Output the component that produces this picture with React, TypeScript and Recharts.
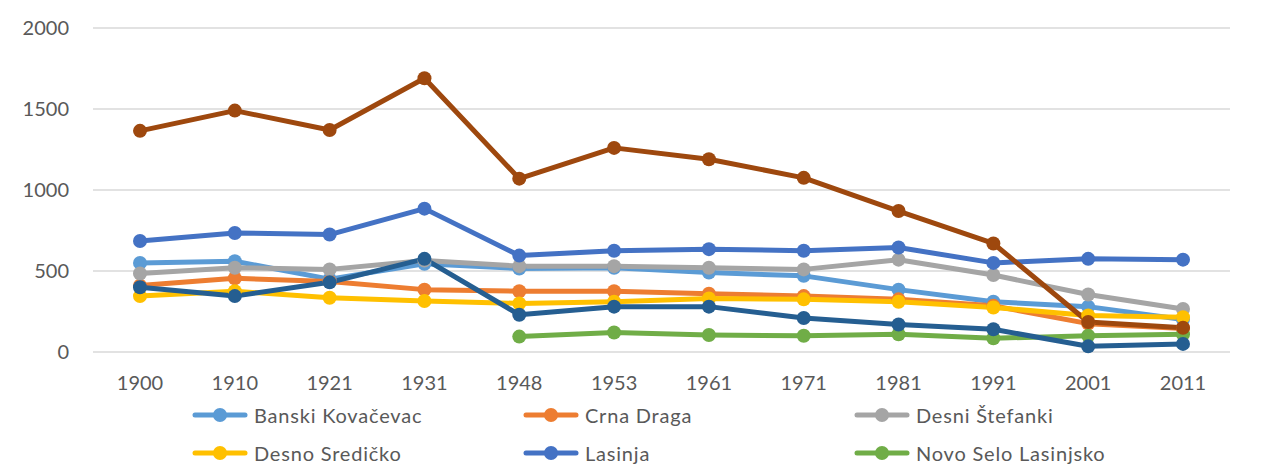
import React from 'react';
import { LineChart, Line, XAxis, YAxis, CartesianGrid, Legend } from 'recharts';

const years = ['1900', '1910', '1921', '1931', '1948', '1953', '1961', '1971', '1981', '1991', '2001', '2011'];

const banskiKovacevac = [550, 560, 450, 545, 515, 520, 490, 470, 385, 310, 280, 200];
const crnaDraga = [410, 455, 435, 385, 375, 375, 360, 345, 325, 285, 175, 145];
const desniStefanki = [485, 520, 510, 565, 530, 530, 520, 510, 570, 475, 355, 265];
const desnoSredicko = [345, 375, 335, 315, 300, 310, 330, 325, 310, 275, 225, 215];
const lasinja = [685, 735, 725, 885, 595, 625, 635, 625, 645, 550, 575, 570];
const novoSelo = [null, null, null, null, 95, 120, 105, 100, 110, 85, 100, 110];
const prkos = [400, 345, 430, 575, 230, 280, 280, 210, 170, 140, 35, 50];
const sjenicak = [1365, 1490, 1370, 1690, 1070, 1260, 1190, 1075, 870, 670, 185, 150];

const yTicks = [0, 500, 1000, 1500, 2000];

const series = [
  { key: 'Banski Kovačevac', values: banskiKovacevac, color: '#5B9BD5' },
  { key: 'Crna Draga', values: crnaDraga, color: '#ED7D31' },
  { key: 'Desni Štefanki', values: desniStefanki, color: '#A5A5A5' },
  { key: 'Desno Sredičko', values: desnoSredicko, color: '#FFC000' },
  { key: 'Lasinja', values: lasinja, color: '#4472C4' },
  { key: 'Novo Selo Lasinjsko', values: novoSelo, color: '#70AD47' },
  { key: 'Prkos Lasinjski', values: prkos, color: '#255E91' },
  { key: 'Sjeničak Lasinjski', values: sjenicak, color: '#9E480E' },
];

// only the first two legend rows are visible in the picture
const legendItems = series.slice(0, 6);

const data = years.map((year, i) => {
  const row: Record<string, string | number | null> = { year };
  series.forEach((s) => {
    row[s.key] = s.values[i];
  });
  return row;
});

const FONT = 'Lato, "Open Sans", sans-serif';
const TEXT = '#595959';

const LegendContent = () => (
  <div
    style={{
      height: 114,
      paddingLeft: 184,
      display: 'grid',
      gridTemplateColumns: '331px 331px 331px',
      gridAutoRows: '38px',
      fontFamily: FONT,
      fontSize: 20,
      letterSpacing: 0.8,
      color: TEXT,
    }}
  >
    {legendItems.map((s) => (
      <div key={s.key} style={{ display: 'flex', alignItems: 'center', whiteSpace: 'nowrap' }}>
        <svg width={56} height={16} style={{ marginRight: 6 }}>
          <line x1={3} y1={8} x2={53} y2={8} stroke={s.color} strokeWidth={5} strokeLinecap="round" />
          <circle cx={28} cy={8} r={7} fill={s.color} />
        </svg>
        <span>{s.key}</span>
      </div>
    ))}
  </div>
);

export default function App() {
  return (
    <div
      style={{
        marginLeft: -2,
        marginTop: -2,
        width: 1266,
        height: 460,
        overflow: 'hidden',
        borderLeft: '2px solid #d9d9d9',
        borderTop: '2px solid #d9d9d9',
        boxSizing: 'border-box',
      }}
    >
      <LineChart width={1264} height={502} data={data} margin={{ top: 20, right: 42, bottom: 0, left: 25 }}>
        <CartesianGrid vertical={false} stroke="#d9d9d9" strokeWidth={1.5} />
        <XAxis
          dataKey="year"
          axisLine={false}
          tickLine={false}
          height={44}
          tickSize={0}
          tickMargin={24}
          padding={{ left: 47, right: 47 }}
          tick={{ fill: TEXT, fontSize: 20, fontFamily: FONT }}
          interval={0}
        />
        <YAxis
          domain={[0, 2000]}
          ticks={yTicks}
          width={60}
          axisLine={false}
          tickLine={false}
          tickSize={0}
          tickMargin={24}
          tick={{ fill: TEXT, fontSize: 20, fontFamily: FONT }}
        />
        <Legend verticalAlign="bottom" content={LegendContent} wrapperStyle={{ left: 0, width: 1264 }} />
        {series.map((s) => (
          <Line
            key={s.key}
            dataKey={s.key}
            stroke={s.color}
            strokeWidth={5}
            strokeLinejoin="round"
            dot={{ r: 7, fill: s.color, stroke: 'none' }}
            activeDot={false}
            isAnimationActive={false}
          />
        ))}
      </LineChart>
    </div>
  );
}
